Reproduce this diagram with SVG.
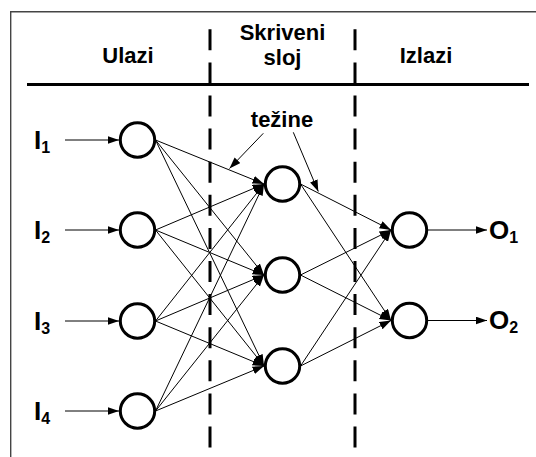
<svg xmlns="http://www.w3.org/2000/svg" width="536" height="457" viewBox="0 0 536 457">
<style>
text{font-family:"Liberation Sans",Arial,sans-serif;font-weight:bold;fill:#000}
.hdr{font-size:22px;text-anchor:middle}
.lbl{font-size:26px}
.sub{font-size:16px}
.node{fill:#fff;stroke:#000;stroke-width:3}
.conn{stroke:#000;stroke-width:1;fill:none;marker-end:url(#ah)}
.dash{stroke:#000;stroke-width:3;stroke-dasharray:21 12.1}
</style>
<defs>
<marker id="ah" markerUnits="userSpaceOnUse" markerWidth="13" markerHeight="9" refX="11.5" refY="4" orient="auto">
<path d="M0,0 L11.5,4 L0,8 z" fill="#000"/>
</marker>
</defs>
<rect width="536" height="457" fill="#fff"/>
<g id="frame">
<path d="M10.7,457 V11.7 H536" fill="none" stroke="#444" stroke-width="1.4"/>
<line x1="27" y1="84.5" x2="529" y2="84.5" stroke="#000" stroke-width="3"/>
<line class="dash" x1="210" y1="29.3" x2="210" y2="448"/>
<line class="dash" x1="355" y1="29.3" x2="355" y2="448"/>
</g>
<g id="headers">
<text class="hdr" x="128" y="63">Ulazi</text>
<text class="hdr" x="282.5" y="40">Skriveni</text>
<text class="hdr" x="282.5" y="65">sloj</text>
<text class="hdr" x="426" y="63">Izlazi</text>
</g>
<g id="connectors">
<line class="conn" x1="65" y1="140" x2="119" y2="140"/>
<line class="conn" x1="65" y1="230" x2="119" y2="230"/>
<line class="conn" x1="65" y1="321" x2="119" y2="321"/>
<line class="conn" x1="65" y1="411" x2="119" y2="411"/>
<line class="conn" x1="155.5" y1="140" x2="264" y2="184"/>
<line class="conn" x1="155.5" y1="140" x2="264" y2="275"/>
<line class="conn" x1="155.5" y1="140" x2="264" y2="366"/>
<line class="conn" x1="155.5" y1="230" x2="264" y2="184"/>
<line class="conn" x1="155.5" y1="230" x2="264" y2="275"/>
<line class="conn" x1="155.5" y1="230" x2="264" y2="366"/>
<line class="conn" x1="155.5" y1="321" x2="264" y2="184"/>
<line class="conn" x1="155.5" y1="321" x2="264" y2="275"/>
<line class="conn" x1="155.5" y1="321" x2="264" y2="366"/>
<line class="conn" x1="155.5" y1="411" x2="264" y2="184"/>
<line class="conn" x1="155.5" y1="411" x2="264" y2="275"/>
<line class="conn" x1="155.5" y1="411" x2="264" y2="366"/>
<line class="conn" x1="300.5" y1="184" x2="391" y2="230"/>
<line class="conn" x1="300.5" y1="184" x2="391" y2="320.5"/>
<line class="conn" x1="300.5" y1="275" x2="391" y2="230"/>
<line class="conn" x1="300.5" y1="275" x2="391" y2="320.5"/>
<line class="conn" x1="300.5" y1="366" x2="391" y2="230"/>
<line class="conn" x1="300.5" y1="366" x2="391" y2="320.5"/>
<line class="conn" x1="428" y1="230" x2="487" y2="230"/>
<line class="conn" x1="428" y1="320.5" x2="487" y2="320.5"/>
<line class="conn" x1="263.3" y1="133.3" x2="229.5" y2="168.5"/>
<line class="conn" x1="293.3" y1="132.3" x2="318.3" y2="191.5"/>
</g>
<g id="in1"><circle class="node" cx="137.5" cy="140" r="17.2"/><text class="lbl" x="34" y="149">I<tspan class="sub" dy="4">1</tspan></text></g>
<g id="in2"><circle class="node" cx="137.5" cy="230" r="17.2"/><text class="lbl" x="34" y="239">I<tspan class="sub" dy="4">2</tspan></text></g>
<g id="in3"><circle class="node" cx="137.5" cy="321" r="17.2"/><text class="lbl" x="34" y="330">I<tspan class="sub" dy="4">3</tspan></text></g>
<g id="in4"><circle class="node" cx="137.5" cy="411" r="17.2"/><text class="lbl" x="34" y="420">I<tspan class="sub" dy="4">4</tspan></text></g>
<g id="h1"><circle class="node" cx="282.5" cy="184" r="17.2"/></g>
<g id="h2"><circle class="node" cx="282.5" cy="275" r="17.2"/></g>
<g id="h3"><circle class="node" cx="282.5" cy="366" r="17.2"/></g>
<g id="out1"><circle class="node" cx="409.5" cy="230" r="17.2"/><text class="lbl" x="489" y="238.5">O<tspan class="sub" dy="4">1</tspan></text></g>
<g id="out2"><circle class="node" cx="409.5" cy="320.5" r="17.2"/><text class="lbl" x="489" y="329">O<tspan class="sub" dy="4">2</tspan></text></g>
<g id="weights"><text class="hdr" x="282" y="127">težine</text></g>
</svg>
